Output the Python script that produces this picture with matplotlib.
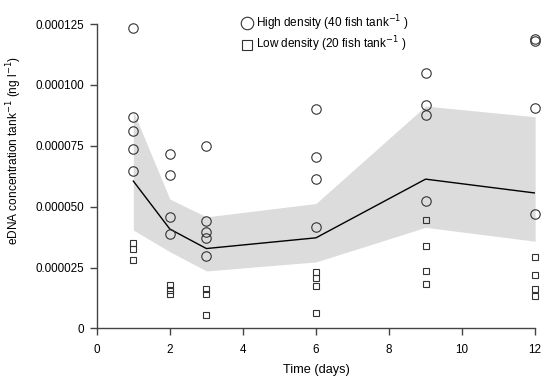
import matplotlib
matplotlib.use("Agg")
import matplotlib.pyplot as plt
from matplotlib.lines import Line2D

plt.rcParams['font.family'] = ['Liberation Sans', 'DejaVu Sans']

days = [1, 2, 3, 6, 9, 12]
high = {
    1: [0.0001233, 0.0000867, 0.0000810, 0.0000737, 0.0000646],
    2: [0.0000717, 0.0000629, 0.0000457, 0.0000386],
    3: [0.0000748, 0.0000440, 0.0000394, 0.0000372, 0.0000297],
    6: [0.0000903, 0.0000704, 0.0000612, 0.0000416],
    9: [0.0001049, 0.0000916, 0.0000877, 0.0000523],
    12: [0.0001187, 0.0001180, 0.0000907, 0.0000468],
}
low = {
    1: [0.0000349, 0.0000328, 0.0000283],
    2: [0.0000179, 0.0000158, 0.0000140],
    3: [0.0000163, 0.0000141, 0.0000057],
    6: [0.0000232, 0.0000208, 0.0000174, 0.0000062],
    9: [0.0000447, 0.0000337, 0.0000235, 0.0000183],
    12: [0.0000294, 0.0000218, 0.0000163, 0.0000133],
}
mean_line = [0.0000605, 0.0000408, 0.0000328, 0.0000372, 0.0000613, 0.0000556]
ribbon_upper = [0.0000892, 0.0000531, 0.0000458, 0.0000513, 0.0000913, 0.0000869]
ribbon_lower = [0.0000404, 0.0000315, 0.0000236, 0.0000273, 0.0000415, 0.0000358]

xticks = [0, 2, 4, 6, 8, 10, 12]
yticks = [0, 0.000025, 0.00005, 0.000075, 0.0001, 0.000125]
ytick_labels = ["0", "0.000025", "0.000050", "0.000075", "0.000100", "0.000125"]

fig = plt.figure(figsize=(5.5, 3.81), dpi=100)
ax = fig.add_axes([0.176, 0.138, 0.797, 0.799])

ax.fill_between(days, ribbon_lower, ribbon_upper, color='#dcdcdc', linewidth=0, zorder=1)
ax.plot(days, mean_line, color='black', linewidth=1.0, zorder=2)

for d in days:
    ax.plot([d] * len(high[d]), high[d], linestyle='none', marker='o', markersize=6.8,
            markerfacecolor='none', markeredgecolor='#333333', markeredgewidth=0.8,
            clip_on=False, zorder=3)
    ax.plot([d] * len(low[d]), low[d], linestyle='none', marker='s', markersize=4.8,
            markerfacecolor='none', markeredgecolor='#333333', markeredgewidth=0.8,
            clip_on=False, zorder=3)

ax.set_xlim(0, 12)
ax.set_ylim(0, 0.000125)
ax.set_xticks(xticks)
ax.set_xticklabels([str(t) for t in xticks])
ax.set_yticks(yticks)
ax.set_yticklabels(ytick_labels)
for s in ['top', 'right']:
    ax.spines[s].set_visible(False)
for s in ['left', 'bottom']:
    ax.spines[s].set_color('#444444')
    ax.spines[s].set_linewidth(1.0)
ax.tick_params(direction='out', length=5, width=1.0, color='#444444', labelsize=8.4, pad=4)
ax.tick_params(axis='x', pad=6)

ax.set_xlabel('Time (days)', fontsize=9.2, labelpad=6)
ax.set_ylabel('eDNA concentration tank$^{-1}$ (ng l$^{-1}$)', fontsize=8.6)
ax.yaxis.set_label_coords(-0.165, 0.586)

handles = [
    Line2D([], [], linestyle='none', marker='o', markersize=9, markerfacecolor='none',
           markeredgecolor='#333333', markeredgewidth=0.8),
    Line2D([], [], linestyle='none', marker='s', markersize=6.5, markerfacecolor='none',
           markeredgecolor='#333333', markeredgewidth=0.8),
]
labels = ['High density (40 fish tank$^{-1}$ )', 'Low density (20 fish tank$^{-1}$ )']
leg = ax.legend(handles, labels, loc='upper left', bbox_to_anchor=(0.315, 1.05),
                frameon=False, fontsize=8.5, handletextpad=0.2, handlelength=1.2,
                borderaxespad=0, labelspacing=0.15)

fig.savefig('out.png', dpi=100)
